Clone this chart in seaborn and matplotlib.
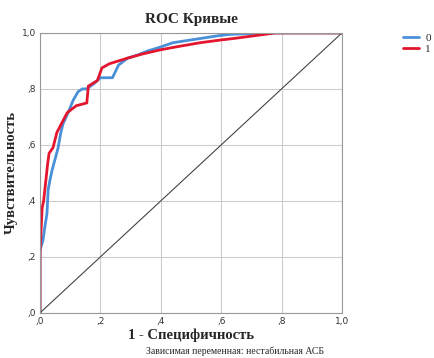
import pandas as pd
import numpy as np
import seaborn as sns
import matplotlib.pyplot as plt

# ROC points (1 - specificity, sensitivity)
fpr_0 = [0.0, 0.0, 0.01, 0.015, 0.023, 0.027, 0.033, 0.04, 0.05, 0.06, 0.068, 0.076,
         0.093, 0.11, 0.126, 0.14, 0.155, 0.18, 0.2, 0.24, 0.26, 0.29, 0.32, 0.355,
         0.4, 0.44, 0.53, 0.59, 0.63, 0.76, 1.0]
tpr_0 = [0.0, 0.225, 0.26, 0.30, 0.355, 0.44, 0.475, 0.51, 0.55, 0.59, 0.64, 0.675,
         0.715, 0.76, 0.79, 0.80, 0.80, 0.82, 0.84, 0.84, 0.885, 0.91, 0.92, 0.935,
         0.95, 0.965, 0.98, 0.99, 0.995, 1.0, 1.0]

fpr_1 = [0.0, 0.0, 0.007, 0.012, 0.02, 0.025, 0.03, 0.043, 0.056, 0.073, 0.09, 0.12,
         0.155, 0.16, 0.19, 0.205, 0.23, 0.29, 0.34, 0.4, 0.45, 0.53, 0.6, 0.64,
         0.78, 1.0]
tpr_1 = [0.0, 0.215, 0.375, 0.40, 0.48, 0.53, 0.57, 0.59, 0.645, 0.68, 0.715, 0.74,
         0.75, 0.81, 0.83, 0.875, 0.89, 0.91, 0.925, 0.94, 0.95, 0.965, 0.975, 0.98,
         1.0, 1.0]

ref_line = [0.0, 1.0]
ticks = [0.0, 0.2, 0.4, 0.6, 0.8, 1.0]
tick_labels = [",0", ",2", ",4", ",6", ",8", "1,0"]

df = pd.concat([
    pd.DataFrame({"fpr": fpr_0, "tpr": tpr_0, "group": "0"}),
    pd.DataFrame({"fpr": fpr_1, "tpr": tpr_1, "group": "1"}),
])

sns.set_style("white")
serif = ["Liberation Serif", "DejaVu Serif"]

fig = plt.figure(figsize=(4.35, 3.58), dpi=100)
ax = fig.add_axes([0.092, 0.126, 0.694, 0.782])

sns.lineplot(data=df, x="fpr", y="tpr", hue="group", estimator=None, sort=False,
             palette={"0": "#4a90d9", "1": "#e3152f"}, linewidth=2.0, ax=ax)
sns.lineplot(x=ref_line, y=ref_line, color="#444444", linewidth=0.8, ax=ax)

ax.set_xlim(0, 1)
ax.set_ylim(0, 1)
ax.set_xticks(ticks)
ax.set_yticks(ticks)
ax.set_xticklabels(tick_labels)
ax.set_yticklabels(tick_labels)
ax.tick_params(labelsize=6.5, colors="#333333", length=0, pad=3)
ax.grid(True, color="#cccccc", linewidth=0.8)
for s in ax.spines.values():
    s.set_color("#999999")
    s.set_linewidth(0.8)

ax.set_title("ROC Кривые", family=serif, fontweight="bold", fontsize=11, pad=7)
ax.set_xlabel("1 - Специфичность", family=serif, fontweight="bold", fontsize=10.5, labelpad=2)
ax.set_ylabel("Чувствительность", family=serif, fontweight="bold", fontsize=10.5, labelpad=3)
fig.text(0.54, 0.005, "Зависимая переменная: нестабильная АСБ", family=serif,
         fontsize=7, ha="center", va="bottom")

h, l = ax.get_legend_handles_labels()
ax.legend(h[:2], l[:2], loc="upper left", bbox_to_anchor=(1.17, 1.035), frameon=False,
          prop={"family": serif, "size": 8}, handlelength=1.4, handletextpad=0.6,
          labelspacing=0.1)

fig.savefig("out.png", dpi=100)
